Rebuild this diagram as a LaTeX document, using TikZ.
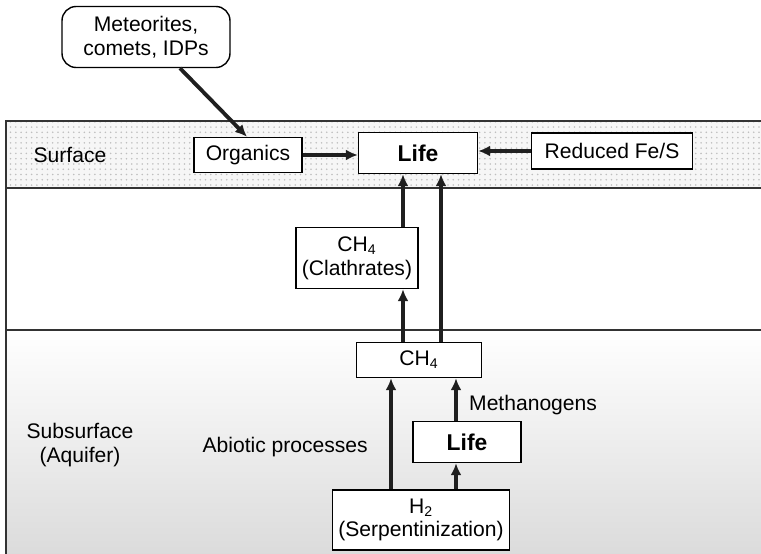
\documentclass[tikz,border=0pt]{standalone}
\usepackage{fontspec}
\setmainfont{Liberation Sans}
\usetikzlibrary{arrows.meta, positioning, patterns, calc}
\tikzset{
  procbox/.style={
    draw, line width=0.8pt, fill=white, align=center, inner sep=1pt,
    font=\fontsize{12}{13.5}\selectfont
  },
  lifebox/.style={
    procbox, font=\fontsize{13}{15}\selectfont\bfseries
  },
  flowarrow/.style={
    -{Latex[length=2.4mm, width=2.2mm]}, line width=2.2pt, color=black!88
  },
  layerlabel/.style={
    align=center, font=\fontsize{12}{13.5}\selectfont
  },
  layerline/.style={line width=1.1pt, color=black!80},
}

\begin{document}
\begin{tikzpicture}[x=0.02cm, y=-0.02cm]
  \useasboundingbox (0,0) rectangle (761,554);

  % ── Layers ──
  \fill[gray!7] (6,121) rectangle (761,188);
  \fill[pattern=dots, pattern color=gray!50] (6,121) rectangle (761,188);
  \shade[top color=white, bottom color=gray!28] (6,330) rectangle (761,554);
  \draw[layerline] (761,121) -- (6,121) -- (6,554);
  \draw[layerline] (6,188) -- (761,188);
  \draw[layerline] (6,330) -- (761,330);

  \node[layerlabel] (surface) at (70,155) {Surface};
  \node[layerlabel] (subsurface) at (80,445) {Subsurface\\(Aquifer)};

  % ── Boxes ──
  \node[procbox, rounded corners=8pt, minimum width=3.36cm, minimum height=1.22cm]
    (meteor) at (146,37) {Meteorites,\\comets, IDPs};
  \node[procbox, minimum width=2.16cm, minimum height=0.7cm]
    (organics) at (248,155) {Organics};
  \node[lifebox, minimum width=2.38cm, minimum height=0.82cm]
    (lifetop) at (418,153) {Life};
  \node[procbox, minimum width=3.22cm, minimum height=0.72cm]
    (fes) at (612,151) {Reduced Fe/S};
  \node[procbox, minimum width=2.44cm, minimum height=1.22cm]
    (clath) at (357,258) {CH\textsubscript{4}\\(Clathrates)};
  \node[procbox, minimum width=2.5cm, minimum height=0.7cm]
    (ch4) at (419,360) {CH\textsubscript{4}};
  \node[lifebox, minimum width=2.16cm, minimum height=0.82cm]
    (lifelow) at (467,442) {Life};
  \node[procbox, minimum width=3.54cm, minimum height=1.2cm]
    (htwo) at (421,520) {H\textsubscript{2}\\(Serpentinization)};

  % ── Arrow columns ──
  \coordinate (colA) at (403,0);
  \coordinate (colB) at (441,0);
  \coordinate (colC) at (391,0);
  \coordinate (colD) at (456,0);

  % ── Flows ──
  \draw[flowarrow] ([xshift=0.68cm]meteor.south) -- ([xshift=-0.02cm]organics.north);
  \draw[flowarrow] (organics.east) -- (lifetop.west |- organics.east);
  \draw[flowarrow] (fes.west) -- (lifetop.east |- fes.west);
  \draw[flowarrow] (clath.north -| colA) -- (lifetop.south -| colA);
  \draw[flowarrow] (ch4.north -| colA) -- (clath.south -| colA);
  \draw[flowarrow] (ch4.north -| colB) -- (lifetop.south -| colB);
  \draw[flowarrow] (htwo.north -| colC) -- (ch4.south -| colC);
  \draw[flowarrow] (htwo.north -| colD) -- (lifelow.south -| colD);
  \draw[flowarrow] (lifelow.north -| colD) -- (ch4.south -| colD);

  \node[layerlabel, anchor=east] (abiotic) at (374,447) {Abiotic processes};
  \node[layerlabel, anchor=west] (methano) at (463,405) {Methanogens};
\end{tikzpicture}
\end{document}
